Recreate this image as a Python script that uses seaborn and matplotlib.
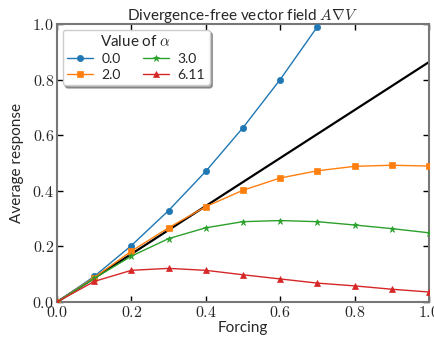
import matplotlib
matplotlib.use('Agg')
import matplotlib.pyplot as plt
import seaborn as sns
import pandas as pd
import numpy as np
from matplotlib.ticker import FuncFormatter, MultipleLocator

# data
forcing = [0.0, 0.1, 0.2, 0.3, 0.4, 0.5, 0.6, 0.7, 0.8, 0.9, 1.0]
resp_00 = [0.0, 0.092, 0.203, 0.329, 0.470, 0.627, 0.800, 0.990]
resp_20 = [0.0, 0.088, 0.183, 0.267, 0.343, 0.402, 0.446, 0.472, 0.488, 0.492, 0.489]
resp_30 = [0.0, 0.085, 0.165, 0.228, 0.267, 0.289, 0.293, 0.289, 0.277, 0.264, 0.249]
resp_611 = [0.0, 0.074, 0.114, 0.121, 0.114, 0.098, 0.083, 0.068, 0.058, 0.046, 0.036]
ref_x = [0.0, 1.0]
ref_y = [0.0, 0.863]

alphas = ['0.0', '2.0', '3.0', '6.11']
series = [resp_00, resp_20, resp_30, resp_611]
markers = ['o', 's', '*', '^']
msizes = [4.5, 5, 5, 5]
colors = sns.color_palette('tab10', 4)

sns.set_style('ticks')
plt.rcParams['font.family'] = ['Lato', 'DejaVu Sans']
plt.rcParams['mathtext.fontset'] = 'cm'

fig = plt.figure(figsize=(4.35, 3.43), dpi=100)
ax = fig.add_axes([0.131, 0.1195, 0.855, 0.8105])

ax.plot(ref_x, ref_y, color='black', lw=1.6, zorder=2)

for a, ys, m, ms, c in zip(alphas, series, markers, msizes, colors):
    df = pd.DataFrame({'Forcing': forcing[:len(ys)], 'resp': ys})
    sns.lineplot(data=df, x='Forcing', y='resp', ax=ax, color=c, marker=m,
                 markersize=ms, markeredgewidth=0.5, markeredgecolor=c,
                 lw=1.0, label=a, zorder=3)

ax.set_xlim(0, 1)
ax.set_ylim(0, 1)
ax.xaxis.set_major_locator(MultipleLocator(0.2))
ax.yaxis.set_major_locator(MultipleLocator(0.2))
fmt = FuncFormatter(lambda v, p: r'$%.1f$' % v)
ax.xaxis.set_major_formatter(fmt)
ax.yaxis.set_major_formatter(fmt)
ax.tick_params(direction='in', top=True, right=True, length=4, width=1,
               labelsize=11.5, color='black', pad=2)
for s in ax.spines.values():
    s.set_color('#777777')
    s.set_linewidth(1.5)

ax.set_xlabel('Forcing', fontsize=11, labelpad=1)
ax.set_ylabel('Average response', fontsize=11, labelpad=6)
ax.set_title(r'Divergence-free vector field $A\nabla V$', fontsize=11, pad=3)

leg = ax.legend(title=r'Value of $\alpha$', ncol=2, loc='upper left',
                fontsize=10, title_fontsize=11, shadow=True, fancybox=True,
                framealpha=1, handlelength=1.9, handletextpad=0.6,
                columnspacing=1.6, borderpad=0.3, labelspacing=0.3,
                borderaxespad=0.4)

fig.savefig('out.png', dpi=100)
